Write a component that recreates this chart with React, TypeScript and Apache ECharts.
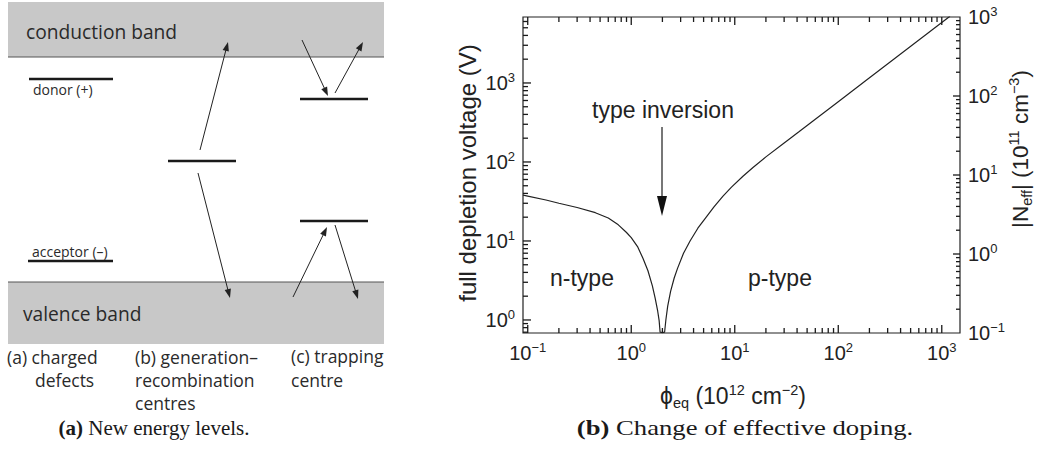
import React, { useEffect, useRef } from "react";
import * as echarts from "echarts";

// ---- data (fluence in 1e12 cm^-2, full depletion voltage in V)
const fluence = [
  0.09, 0.1, 0.15, 0.2, 0.3, 0.45, 0.6, 0.75, 0.9, 1.0, 1.15, 1.3, 1.45, 1.6, 1.7, 1.8, 1.86, 1.9, 2.0,
  2.1, 2.16, 2.25, 2.4, 2.6, 2.8, 3.2, 3.7, 4.4, 5.3, 6.3, 7.7, 9.3, 12, 15, 20, 30, 42, 60, 100, 185,
  400, 840, 1200,
];
const voltage = [
  38, 37, 33, 30, 26.5, 22.8, 19.5, 16, 12.8, 11, 8.5, 6, 4.2, 2.7, 1.9, 1.3, 0.98, 0.7, 0.69,
  0.7, 1.0, 1.5, 2.3, 3.4, 4.5, 7, 10, 14.5, 20, 27, 37, 48, 66, 85, 116, 174, 243, 348, 580, 1075,
  2330, 4900, 7000,
];

const xDecades = [-2, -1, 0, 1, 2, 3];
const vDecades = [-1, 0, 1, 2, 3];
const nDecades = [-2, -1, 0, 1, 2, 3];

const X_MIN = 0.09;
const X_MAX = 1500;
const V_MIN = 0.684;
const V_MAX = 6840;
const N_MIN = 0.1;
const N_MAX = 1000;

const SANS = "'Liberation Sans', Arial, Helvetica, sans-serif";
const MYRIAD = "'Open Sans', 'Noto Sans', sans-serif";
const SERIF = "'Liberation Serif', 'DejaVu Serif', serif";
const INK = "#222";
const GRID = { left: 523, top: 17, right: 77, bottom: 123 };

function logTicks(decades: number[], lo: number, hi: number, major: boolean) {
  const out: number[] = [];
  decades.forEach((d) => {
    for (let m = 1; m <= 9; m++) {
      if ((m === 1) !== major) continue;
      const v = m * Math.pow(10, d);
      if (v > lo * 1.0001 && v < hi * 0.9999) out.push(v);
    }
  });
  return out;
}

function isPow10(v: number) {
  const e = Math.log10(v);
  return Math.abs(e - Math.round(e)) < 1e-6;
}
function powLabel(v: number) {
  if (!isPow10(v)) return "";
  const e = Math.round(Math.log10(v));
  return "{b|10}{s|" + (e < 0 ? "\u2212" + -e : String(e)) + "}";
}

const axisRich = {
  b: { fontSize: 20, fontFamily: SANS, color: INK, lineHeight: 24 },
  s: { fontSize: 13, fontFamily: SANS, color: INK, lineHeight: 12, verticalAlign: "top" },
};

function arrow(x1: number, y1: number, x2: number, y2: number, color = "#222") {
  const dx = x2 - x1;
  const dy = y2 - y1;
  const L = Math.sqrt(dx * dx + dy * dy);
  const ux = dx / L;
  const uy = dy / L;
  const hl = 9;
  const hw = 3.2;
  const bx = x2 - ux * hl;
  const by = y2 - uy * hl;
  return [
    { type: "line", shape: { x1, y1, x2: bx + ux * 2, y2: by + uy * 2 }, style: { stroke: color, lineWidth: 1 } },
    {
      type: "polygon",
      shape: { points: [[x2, y2], [bx - uy * hw, by + ux * hw], [bx + uy * hw, by - ux * hw]] },
      style: { fill: color },
    },
  ];
}

function txt(x: number, y: number, text: string, size: number, family: string, extra: any = {}) {
  return {
    type: "text",
    x,
    y,
    style: { text, fontSize: size, fontFamily: family, fill: "#2a2a2a", align: "left", verticalAlign: "middle", ...extra },
  };
}

function logAxis(min: number, max: number, position: string, labels: boolean) {
  return {
    type: "log",
    min,
    max,
    position,
    axisLine: { show: false },
    splitLine: { show: false },
    axisTick: { show: false },
    axisLabel: labels
      ? { show: true, interval: 0, margin: 8, formatter: powLabel, rich: axisRich, hideOverlap: false, showMinLabel: true, showMaxLabel: true }
      : { show: false },
  };
}

export default function App() {
  const ref = useRef<HTMLDivElement>(null);
  const tickRef = useRef<HTMLDivElement>(null);

  useEffect(() => {
    document.body.style.margin = "0";
    if (!ref.current || !tickRef.current) return;
    const chart = echarts.init(ref.current, undefined, { renderer: "svg" });

    const curve = fluence.map((f, i) => [f, voltage[i]]);

    chart.setOption({
      animation: false,
      grid: { ...GRID, show: true, borderColor: INK, borderWidth: 1.2 },
      xAxis: logAxis(X_MIN, X_MAX, "bottom", true),
      yAxis: [logAxis(V_MIN, V_MAX, "left", true), logAxis(N_MIN, N_MAX, "right", true)],
      series: [
        {
          type: "line",
          xAxisIndex: 0,
          yAxisIndex: 0,
          data: curve,
          showSymbol: false,
          smooth: false,
          lineStyle: { color: INK, width: 1.2 },
          clip: true,
          silent: true,
        },
      ],
    } as any);

    const supRich = (size: number) => ({
      a: { fontSize: size, fontFamily: SANS, fill: INK, lineHeight: 28 },
      sub: { fontSize: 14.5, fontFamily: SANS, fill: INK, lineHeight: 12, verticalAlign: "bottom" },
      sup: { fontSize: 14.5, fontFamily: SANS, fill: INK, lineHeight: 14, verticalAlign: "top" },
    });

    const graphic: any[] = [
      // ---- panel (a): energy levels
      { type: "rect", shape: { x: 8, y: 2, width: 376, height: 55 }, style: { fill: "#c8c8c8" } },
      { type: "line", shape: { x1: 8, y1: 57, x2: 384, y2: 57 }, style: { stroke: "#555", lineWidth: 1 } },
      { type: "rect", shape: { x: 8, y: 282, width: 376, height: 62 }, style: { fill: "#c8c8c8" } },
      { type: "line", shape: { x1: 8, y1: 282, x2: 384, y2: 282 }, style: { stroke: "#555", lineWidth: 1 } },
      txt(26, 31, "conduction band", 19.2, MYRIAD),
      txt(23, 313, "valence band", 19.2, MYRIAD),
      { type: "line", shape: { x1: 29, y1: 79, x2: 113, y2: 79 }, style: { stroke: "#1a1a1a", lineWidth: 2.6 } },
      { type: "line", shape: { x1: 28, y1: 261, x2: 113, y2: 261 }, style: { stroke: "#1a1a1a", lineWidth: 2.6 } },
      { type: "line", shape: { x1: 168, y1: 161, x2: 236, y2: 161 }, style: { stroke: "#1a1a1a", lineWidth: 2.6 } },
      { type: "line", shape: { x1: 300, y1: 99, x2: 368, y2: 99 }, style: { stroke: "#1a1a1a", lineWidth: 2.6 } },
      { type: "line", shape: { x1: 300, y1: 221, x2: 368, y2: 221 }, style: { stroke: "#1a1a1a", lineWidth: 2.6 } },
      txt(33, 89, "donor (+)", 14, MYRIAD),
      txt(32, 251, "acceptor (\u2013)", 14, MYRIAD),
      ...arrow(200, 150, 228, 42),
      ...arrow(198, 173, 230, 298),
      ...arrow(302, 40, 328, 96),
      ...arrow(335, 93, 363, 42),
      ...arrow(293, 297, 327, 227),
      ...arrow(335, 225, 358, 299),
      txt(7, 357, "(a) charged", 17.5, MYRIAD),
      txt(35, 380, "defects", 17.5, MYRIAD),
      txt(135, 357, "(b) generation\u2013", 17.5, MYRIAD),
      txt(135, 380, "recombination", 17.5, MYRIAD),
      txt(135, 403, "centres", 17.5, MYRIAD),
      txt(291, 356, "(c) trapping", 17.5, MYRIAD),
      txt(291, 380, "centre", 17.5, MYRIAD),
      // captions
      {
        type: "text",
        x: 154,
        y: 428,
        style: {
          text: "{bb|(a)}{n| New energy levels.}",
          align: "center",
          verticalAlign: "middle",
          rich: {
            bb: { fontSize: 21, fontFamily: SERIF, fontWeight: "bold", fill: "#1a1a1a" },
            n: { fontSize: 21, fontFamily: SERIF, fill: "#1a1a1a" },
          },
        },
      },
      {
        type: "text",
        x: 745,
        y: 428,
        scaleX: 1.27,
        originX: 0,
        style: {
          text: "{bb|(b)}{n| Change of effective doping.}",
          align: "center",
          verticalAlign: "middle",
          rich: {
            bb: { fontSize: 21, fontFamily: SERIF, fontWeight: "bold", fill: "#1a1a1a" },
            n: { fontSize: 21, fontFamily: SERIF, fill: "#1a1a1a" },
          },
        },
      },
      // ---- panel (b) annotations and titles
      { type: "text", x: 663, y: 110, style: { text: "type inversion", fontSize: 23, fontFamily: SANS, fill: INK, align: "center", verticalAlign: "middle" } },
      { type: "line", shape: { x1: 662, y1: 127, x2: 662, y2: 198 }, style: { stroke: "#555", lineWidth: 1.6 } },
      { type: "polygon", shape: { points: [[657, 196], [667, 196], [662, 216]] }, style: { fill: "#111" } },
      { type: "text", x: 550, y: 278, style: { text: "n-type", fontSize: 23, fontFamily: SANS, fill: INK, align: "left", verticalAlign: "middle" } },
      { type: "text", x: 748, y: 278, style: { text: "p-type", fontSize: 23, fontFamily: SANS, fill: INK, align: "left", verticalAlign: "middle" } },
      {
        type: "text",
        x: 733,
        y: 396,
        style: {
          text: "{a|\u03d5}{sub|eq}{a| (10}{sup|12}{a| cm}{sup|\u22122}{a|)}",
          align: "center",
          verticalAlign: "middle",
          rich: supRich(23),
        },
      },
      {
        type: "text",
        x: 467,
        y: 173,
        rotation: Math.PI / 2,
        style: { text: "full depletion voltage (V)", fontSize: 24, fontFamily: SANS, fill: INK, align: "center", verticalAlign: "middle" },
      },
      {
        type: "text",
        x: 1020,
        y: 149,
        rotation: Math.PI / 2,
        style: {
          text: "{a||N}{sub|eff}{a|| (10}{sup|11}{a| cm}{sup|\u22123}{a|)}",
          align: "center",
          verticalAlign: "middle",
          rich: supRich(22.5),
        },
      },
    ];
    chart.setOption({ graphic });

    // ---- overlay instance with the same grid and log scales, used only for the axis ticks
    const tickChart = echarts.init(tickRef.current, undefined, { renderer: "svg" });
    tickChart.setOption({
      animation: false,
      grid: { ...GRID, show: false },
      xAxis: logAxis(X_MIN, X_MAX, "bottom", false),
      yAxis: [logAxis(V_MIN, V_MAX, "left", false), logAxis(N_MIN, N_MAX, "right", false)],
      series: [],
    } as any);
    const g: any[] = [];
    const tickLine = (x1: number, y1: number, x2: number, y2: number) =>
      g.push({ type: "line", shape: { x1, y1, x2, y2 }, style: { stroke: "#1a1a1a", lineWidth: 1.3 } });
    [true, false].forEach((major) => {
      const lx = major ? 8 : 5;
      logTicks(xDecades, X_MIN, X_MAX, major).forEach((v) => {
        const b = tickChart.convertToPixel({ xAxisIndex: 0, yAxisIndex: 0 } as any, [v, V_MIN]) as number[];
        const t = tickChart.convertToPixel({ xAxisIndex: 0, yAxisIndex: 0 } as any, [v, V_MAX]) as number[];
        tickLine(b[0], b[1], b[0], b[1] - lx);
        tickLine(t[0], t[1], t[0], t[1] + lx);
      });
      logTicks(vDecades, V_MIN, V_MAX, major).forEach((v) => {
        const l = tickChart.convertToPixel({ xAxisIndex: 0, yAxisIndex: 0 } as any, [X_MIN, v]) as number[];
        tickLine(l[0], l[1], l[0] + (major ? 8 : 5), l[1]);
      });
      logTicks(nDecades, N_MIN, N_MAX, major).forEach((v) => {
        const r = tickChart.convertToPixel({ xAxisIndex: 0, yAxisIndex: 1 } as any, [X_MAX, v]) as number[];
        tickLine(r[0], r[1], r[0] - (major ? 7 : 4), r[1]);
      });
    });
    tickChart.setOption({ graphic: g });

    return () => {
      tickChart.dispose();
      chart.dispose();
    };
  }, []);

  return (
    <div style={{ position: "relative", width: 1037, height: 456 }}>
      <div ref={ref} style={{ position: "absolute", left: 0, top: 0, width: 1037, height: 456 }} />
      <div ref={tickRef} style={{ position: "absolute", left: 0, top: 0, width: 1037, height: 456, pointerEvents: "none" }} />
    </div>
  );
}
